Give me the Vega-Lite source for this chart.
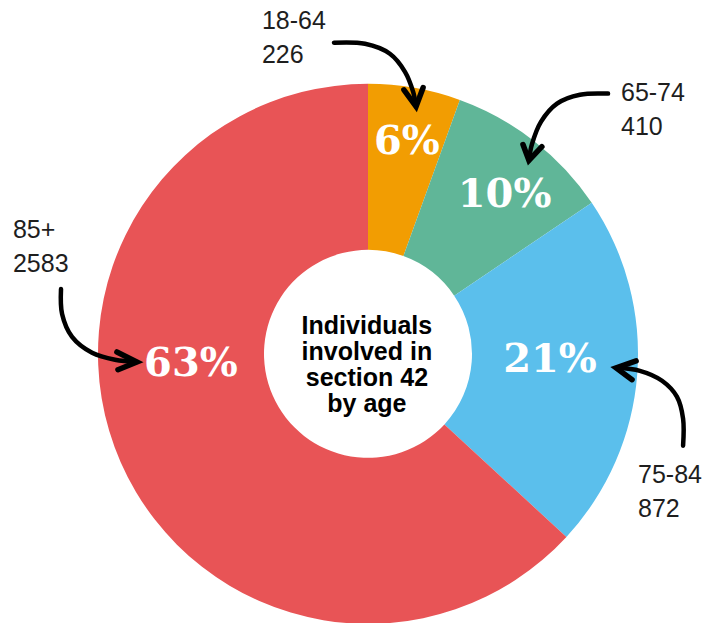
{
  "$schema": "https://vega.github.io/schema/vega-lite/v6.json",
  "width": 723,
  "height": 623,
  "padding": 0,
  "autosize": {"type": "fit", "contains": "padding"},
  "background": "white",
  "config": {"view": {"stroke": null}},
  "datasets": {
    "ages": [
      {"age": "18-64", "count": 226},
      {"age": "65-74", "count": 410},
      {"age": "75-84", "count": 872},
      {"age": "85+", "count": 2583}
    ],
    "anchors": [
      {"age": "18-64", "px": 0.144, "py": 0.741, "lx": -0.393, "ly": 1.207},
      {"age": "65-74", "px": 0.506, "py": 0.544, "lx": 0.937, "ly": 0.941},
      {"age": "75-84", "px": 0.674, "py": -0.067, "lx": 1.0, "ly": -0.478},
      {"age": "85+", "px": -0.656, "py": -0.081, "lx": -1.315, "ly": 0.43}
    ],
    "arrows": [
      {"age": "18-64", "part": "shaft", "i": 0, "x": -0.126, "y": 1.156},
      {"age": "18-64", "part": "shaft", "i": 1, "x": -0.011, "y": 1.152},
      {"age": "18-64", "part": "shaft", "i": 2, "x": 0.081, "y": 1.115},
      {"age": "18-64", "part": "shaft", "i": 3, "x": 0.137, "y": 1.048},
      {"age": "18-64", "part": "shaft", "i": 4, "x": 0.167, "y": 0.974},
      {"age": "18-64", "part": "shaft", "i": 5, "x": 0.178, "y": 0.919},
      {"age": "18-64", "part": "head", "i": 0, "x": 0.133, "y": 0.981},
      {"age": "18-64", "part": "head", "i": 1, "x": 0.178, "y": 0.919},
      {"age": "18-64", "part": "head", "i": 2, "x": 0.204, "y": 0.989},
      {"age": "65-74", "part": "shaft", "i": 0, "x": 0.889, "y": 0.967},
      {"age": "65-74", "part": "shaft", "i": 1, "x": 0.785, "y": 0.963},
      {"age": "65-74", "part": "shaft", "i": 2, "x": 0.7, "y": 0.93},
      {"age": "65-74", "part": "shaft", "i": 3, "x": 0.641, "y": 0.863},
      {"age": "65-74", "part": "shaft", "i": 4, "x": 0.607, "y": 0.778},
      {"age": "65-74", "part": "shaft", "i": 5, "x": 0.596, "y": 0.719},
      {"age": "65-74", "part": "head", "i": 0, "x": 0.574, "y": 0.778},
      {"age": "65-74", "part": "head", "i": 1, "x": 0.596, "y": 0.719},
      {"age": "65-74", "part": "head", "i": 2, "x": 0.644, "y": 0.77},
      {"age": "75-84", "part": "shaft", "i": 0, "x": 1.167, "y": -0.341},
      {"age": "75-84", "part": "shaft", "i": 1, "x": 1.167, "y": -0.241},
      {"age": "75-84", "part": "shaft", "i": 2, "x": 1.144, "y": -0.159},
      {"age": "75-84", "part": "shaft", "i": 3, "x": 1.089, "y": -0.1},
      {"age": "75-84", "part": "shaft", "i": 4, "x": 1.007, "y": -0.063},
      {"age": "75-84", "part": "shaft", "i": 5, "x": 0.922, "y": -0.052},
      {"age": "75-84", "part": "head", "i": 0, "x": 0.993, "y": -0.026},
      {"age": "75-84", "part": "head", "i": 1, "x": 0.919, "y": -0.052},
      {"age": "75-84", "part": "head", "i": 2, "x": 0.978, "y": -0.096},
      {"age": "85+", "part": "shaft", "i": 0, "x": -1.137, "y": 0.241},
      {"age": "85+", "part": "shaft", "i": 1, "x": -1.133, "y": 0.148},
      {"age": "85+", "part": "shaft", "i": 2, "x": -1.096, "y": 0.063},
      {"age": "85+", "part": "shaft", "i": 3, "x": -1.022, "y": 0.004},
      {"age": "85+", "part": "shaft", "i": 4, "x": -0.937, "y": -0.022},
      {"age": "85+", "part": "shaft", "i": 5, "x": -0.856, "y": -0.03},
      {"age": "85+", "part": "head", "i": 0, "x": -0.93, "y": 0.007},
      {"age": "85+", "part": "head", "i": 1, "x": -0.856, "y": -0.03},
      {"age": "85+", "part": "head", "i": 2, "x": -0.926, "y": -0.059}
    ]
  },
  "layer": [
    {
      "data": {"name": "ages"},
      "mark": {"type": "arc", "outerRadius": 270, "innerRadius": 104},
      "encoding": {
        "x": {"datum": 0, "type": "quantitative", "scale": {"domain": [-1.36296, 1.31481], "nice": false, "zero": false}, "axis": null},
        "y": {"datum": 0, "type": "quantitative", "scale": {"domain": [-0.99259, 1.31481], "nice": false, "zero": false}, "axis": null},
        "theta": {"field": "count", "type": "quantitative", "stack": true},
        "order": {"field": "age", "sort": "ascending"},
        "color": {
          "field": "age",
          "type": "nominal",
          "scale": {"domain": ["18-64", "65-74", "75-84", "85+"], "range": ["#F29D02", "#60B698", "#5BBFEC", "#E85456"]},
          "legend": null
        }
      }
    },
    {
      "data": {"name": "ages"},
      "transform": [
        {"joinaggregate": [{"op": "sum", "field": "count", "as": "total"}]},
        {"calculate": "round(datum.count / datum.total * 100) + '%'", "as": "pct"},
        {"lookup": "age", "from": {"data": {"name": "anchors"}, "key": "age", "fields": ["px", "py"]}}
      ],
      "mark": {"type": "text", "font": "DejaVu Serif", "fontWeight": "bold", "fontSize": 40, "align": "center", "baseline": "alphabetic", "color": "white"},
      "encoding": {
        "x": {"field": "px", "type": "quantitative"},
        "y": {"field": "py", "type": "quantitative"},
        "text": {"field": "pct"}
      }
    },
    {
      "data": {"name": "ages"},
      "transform": [
        {"calculate": "datum.age + '\\n' + datum.count", "as": "lab"},
        {"lookup": "age", "from": {"data": {"name": "anchors"}, "key": "age", "fields": ["lx", "ly"]}}
      ],
      "mark": {"type": "text", "font": "Liberation Sans", "fontSize": 25, "align": "left", "baseline": "alphabetic", "lineBreak": "\n", "lineHeight": 34, "color": "#1e1e1e"},
      "encoding": {
        "x": {"field": "lx", "type": "quantitative"},
        "y": {"field": "ly", "type": "quantitative"},
        "text": {"field": "lab"}
      }
    },
    {
      "data": {"name": "arrows"},
      "transform": [{"filter": "datum.part === 'shaft'"}],
      "mark": {"type": "line", "interpolate": "catmull-rom", "strokeWidth": 4.5, "strokeCap": "round", "color": "black"},
      "encoding": {
        "x": {"field": "x", "type": "quantitative"},
        "y": {"field": "y", "type": "quantitative"},
        "detail": {"field": "age"},
        "order": {"field": "i"}
      }
    },
    {
      "data": {"name": "arrows"},
      "transform": [{"filter": "datum.part === 'head'"}],
      "mark": {"type": "line", "interpolate": "linear", "strokeWidth": 5.5, "strokeCap": "round", "strokeJoin": "miter", "color": "black"},
      "encoding": {
        "x": {"field": "x", "type": "quantitative"},
        "y": {"field": "y", "type": "quantitative"},
        "detail": {"field": "age"},
        "order": {"field": "i"}
      }
    },
    {
      "data": {"values": [{"title": "Individuals\ninvolved in\nsection 42\nby age"}]},
      "mark": {"type": "text", "font": "Liberation Sans", "fontWeight": "bold", "fontSize": 25, "align": "center", "baseline": "alphabetic", "lineBreak": "\n", "lineHeight": 26, "color": "black"},
      "encoding": {
        "x": {"datum": -0.004, "type": "quantitative"},
        "y": {"datum": 0.074, "type": "quantitative"},
        "text": {"field": "title"}
      }
    }
  ]
}
